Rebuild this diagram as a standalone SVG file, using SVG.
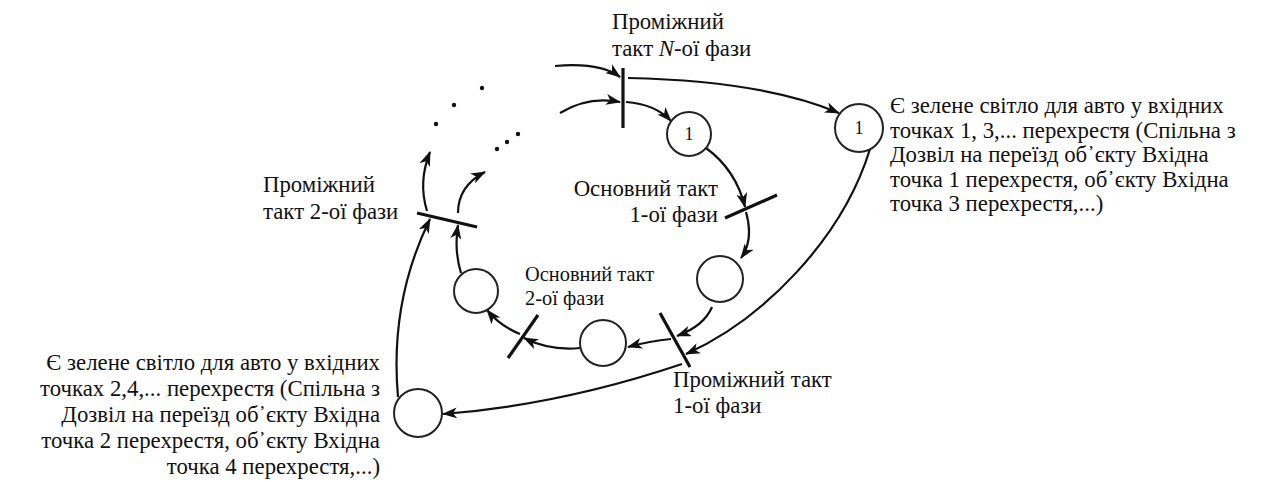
<svg xmlns="http://www.w3.org/2000/svg" width="1272" height="482" viewBox="0 0 1272 482">
<style>
.t{font-family:"Liberation Serif","Times New Roman",serif;font-size:22.8px;fill:#111}
.s{font-size:20.4px}
.n{font-family:"Liberation Serif","Times New Roman",serif;font-size:18px;fill:#111;text-anchor:middle}
.c{fill:#fff;stroke:#222;stroke-width:2}
.bar{stroke:#111;stroke-width:3.2;stroke-linecap:butt}
.e{fill:none;stroke:#111;stroke-width:2.2;marker-end:url(#ah)}
</style>
<defs>
<marker id="ah" viewBox="0 0 15 11" refX="14" refY="5.5" markerWidth="15" markerHeight="11" markerUnits="userSpaceOnUse" orient="auto">
<path d="M0,0 L15,5.5 L0,11 L4,5.5 z" fill="#111"/>
</marker>
</defs>
<rect width="1272" height="482" fill="#fff"/>

<g id="connectors">
<path class="e" d="M555,66 Q600,62 620,77"/>
<path class="e" d="M560,113 Q588,96 620,102"/>
<path class="e" d="M628,78 C720,80 790,92 839,113"/>
<path class="e" d="M626,102 Q655,104 671,121"/>
<path class="e" d="M706,148 Q736,170 745,207"/>
<path class="e" d="M746,212 Q754,240 741,258"/>
<path class="e" d="M712,307 Q704,326 677,336"/>
<path class="e" d="M870,149 C842,240 762,320 686,354"/>
<path class="e" d="M671,339 Q650,341 628,347"/>
<path class="e" d="M682,364 Q560,405 443,414"/>
<path class="e" d="M580,348 Q550,351 524,338"/>
<path class="e" d="M520,334 Q500,326 487,310"/>
<path class="e" d="M461,273 Q454,250 458,225"/>
<path class="e" d="M398,397 C392,330 405,270 430,219"/>
<path class="e" d="M427,211 Q418,182 430,152"/>
<path class="e" d="M458,213 Q458,186 485,172"/>
<g fill="#111">
<circle cx="436" cy="124" r="2.2"/><circle cx="454" cy="105" r="2.2"/><circle cx="482" cy="88" r="2.2"/>
<circle cx="497" cy="149" r="2.2"/><circle cx="507" cy="142" r="2.2"/><circle cx="518" cy="134" r="2.2"/>
</g>
</g>

<g id="t-n"><line class="bar" x1="623" y1="68" x2="623" y2="128"/>
<text class="t" x="612" y="29">Проміжний</text>
<text class="t" x="612" y="56">такт <tspan font-style="italic">N</tspan>-ої фази</text></g>

<g id="t-osn1"><line class="bar" x1="725" y1="218" x2="777" y2="195"/>
<text class="t" x="718" y="196" text-anchor="end">Основний такт</text>
<text class="t" x="718" y="222" text-anchor="end">1-ої фази</text></g>

<g id="t-prom1"><line class="bar" x1="660" y1="313" x2="690" y2="367"/>
<text class="t" x="673" y="387">Проміжний такт</text>
<text class="t" x="673" y="413">1-ої фази</text></g>

<g id="t-osn2"><line class="bar" x1="508" y1="358" x2="538" y2="315"/>
<text class="t s" x="525" y="281">Основний такт</text>
<text class="t s" x="525" y="305">2-ої фази</text></g>

<g id="t-prom2"><line class="bar" x1="417" y1="213" x2="477" y2="227"/>
<text class="t" x="263" y="192">Проміжний</text>
<text class="t" x="263" y="219">такт 2-ої фази</text></g>

<g id="p-inner1"><circle class="c" cx="689" cy="134" r="22"/><text class="n" x="689" y="140">1</text></g>
<g id="p-right"><circle class="c" cx="720" cy="279" r="23"/></g>
<g id="p-bottom"><circle class="c" cx="603" cy="343" r="23"/></g>
<g id="p-left"><circle class="c" cx="476" cy="291" r="22"/></g>

<g id="p-outer1"><circle class="c" cx="859" cy="128" r="24"/><text class="n" x="859" y="134">1</text>
<text class="t" x="890" y="113">Є зелене світло для авто у вхідних</text>
<text class="t" x="890" y="137.5">точках 1, 3,... перехрестя (Спільна з</text>
<text class="t" x="890" y="162">Дозвіл на переїзд об᾽єкту Вхідна</text>
<text class="t" x="890" y="186.5">точка 1 перехрестя, об᾽єкту Вхідна</text>
<text class="t" x="890" y="211">точка 3 перехрестя,...)</text></g>

<g id="p-outer2"><circle class="c" cx="418" cy="413" r="24"/>
<g text-anchor="end">
<text class="t" x="380" y="370">Є зелене світло для авто у вхідних</text>
<text class="t" x="380" y="396">точках 2,4,... перехрестя (Спільна з</text>
<text class="t" x="380" y="422">Дозвіл на переїзд об᾽єкту Вхідна</text>
<text class="t" x="380" y="448">точка 2 перехрестя, об᾽єкту Вхідна</text>
<text class="t" x="380" y="474">точка 4 перехрестя,...)</text>
</g></g>
</svg>
